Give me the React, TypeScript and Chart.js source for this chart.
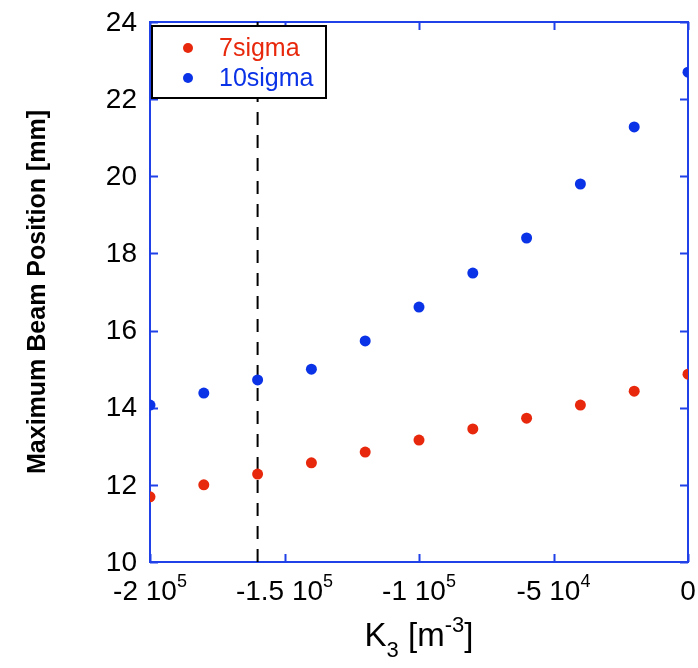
import React, { useEffect, useRef } from 'react';
import { Chart, registerables } from 'chart.js';

Chart.register(...registerables);

const k3Values = [-200000, -180000, -160000, -140000, -120000, -100000, -80000, -60000, -40000, -20000, 0];
const sigma7 = [11.69, 12.0, 12.28, 12.57, 12.85, 13.16, 13.45, 13.73, 14.07, 14.43, 14.87];
const sigma10 = [14.07, 14.38, 14.72, 15.0, 15.73, 16.61, 17.49, 18.4, 19.8, 21.28, 22.7];
const xTickValues = [-200000, -150000, -100000, -50000, 0];
const xTickMantissa = ['-2', '-1.5', '-1', '-5', '0'];
const xTickExponent = ['5', '5', '5', '4', ''];
const yTickValues = [10, 12, 14, 16, 18, 20, 22, 24];
const markerK3 = -160000;
const markerRange = [10, 24];
const seriesNames = ['7sigma', '10sigma'];

const RED = '#e8280c';
const BLUE = '#0a32e6';
const AXIS = '#2040e8';
const FONT = '"Liberation Sans", Arial, sans-serif';

const decorPlugin = {
  id: 'decor',
  beforeDatasetsDraw(chart: any) {
    const { ctx, chartArea: a, scales } = chart;
    const xs = scales.x;
    const ys = scales.y;
    ctx.save();
    ctx.strokeStyle = AXIS;
    ctx.lineWidth = 2;
    ctx.strokeRect(a.left, a.top, a.right - a.left, a.bottom - a.top);
    const tl = 8;
    ctx.beginPath();
    xTickValues.forEach((v) => {
      const px = Math.round(xs.getPixelForValue(v)) + 0.5;
      ctx.moveTo(px, a.bottom);
      ctx.lineTo(px, a.bottom - tl);
      ctx.moveTo(px, a.top);
      ctx.lineTo(px, a.top + tl);
    });
    yTickValues.forEach((v) => {
      const py = Math.round(ys.getPixelForValue(v)) + 0.5;
      ctx.moveTo(a.left, py);
      ctx.lineTo(a.left + tl, py);
      ctx.moveTo(a.right, py);
      ctx.lineTo(a.right - tl, py);
    });
    ctx.stroke();
    ctx.restore();
  },
  afterDatasetsDraw(chart: any) {
    const { ctx, chartArea: a, scales } = chart;
    const xs = scales.x;
    const ys = scales.y;
    ctx.save();
    ctx.fillStyle = '#000';
    ctx.font = `28px ${FONT}`;
    ctx.textAlign = 'right';
    ctx.textBaseline = 'middle';
    yTickValues.forEach((v) => {
      ctx.fillText(String(v), a.left - 13, ys.getPixelForValue(v) + 1);
    });
    ctx.textBaseline = 'alphabetic';
    ctx.textAlign = 'left';
    xTickValues.forEach((v, i) => {
      const main = xTickExponent[i] ? `${xTickMantissa[i]} 10` : xTickMantissa[i];
      ctx.font = `28px ${FONT}`;
      const w1 = ctx.measureText(main).width;
      ctx.font = `18px ${FONT}`;
      const w2 = xTickExponent[i] ? ctx.measureText(xTickExponent[i]).width : 0;
      const x0 = xs.getPixelForValue(v) - (w1 + w2) / 2;
      ctx.font = `28px ${FONT}`;
      ctx.fillText(main, x0, a.bottom + 38);
      if (xTickExponent[i]) {
        ctx.font = `18px ${FONT}`;
        ctx.fillText(xTickExponent[i], x0 + w1, a.bottom + 25);
      }
    });
    const parts = [
      { t: 'K', size: 33, dy: 0 },
      { t: '3', size: 22, dy: 11 },
      { t: ' [m', size: 33, dy: 0 },
      { t: '-3', size: 22, dy: -14 },
      { t: ']', size: 33, dy: 0 },
    ];
    let total = 0;
    parts.forEach((p) => {
      ctx.font = `${p.size}px ${FONT}`;
      total += ctx.measureText(p.t).width;
    });
    let cx = (a.left + a.right) / 2 - total / 2;
    const base = a.bottom + 84;
    parts.forEach((p) => {
      ctx.font = `${p.size}px ${FONT}`;
      ctx.fillText(p.t, cx, base + p.dy);
      cx += ctx.measureText(p.t).width;
    });
    ctx.save();
    ctx.translate(38, (a.top + a.bottom) / 2);
    ctx.rotate(-Math.PI / 2);
    ctx.font = `bold 25px ${FONT}`;
    ctx.textAlign = 'center';
    ctx.textBaseline = 'middle';
    ctx.fillText('Maximum Beam Position [mm]', 0, 0);
    ctx.restore();
    const lx = a.left + 2;
    const ly = a.top + 4;
    const lw = 174;
    const lh = 72;
    ctx.fillStyle = '#fff';
    ctx.fillRect(lx, ly, lw, lh);
    ctx.strokeStyle = '#000';
    ctx.lineWidth = 2;
    ctx.strokeRect(lx, ly, lw, lh);
    const colors = [RED, BLUE];
    ctx.font = `25px ${FONT}`;
    ctx.textAlign = 'left';
    ctx.textBaseline = 'middle';
    seriesNames.forEach((name, i) => {
      const yy = ly + 22 + i * 30;
      ctx.fillStyle = colors[i];
      ctx.beginPath();
      ctx.arc(lx + 36, yy, 5, 0, Math.PI * 2);
      ctx.fill();
      ctx.fillText(name, lx + 67, yy + 1);
    });
    ctx.restore();
  },
};

export default function App() {
  const ref = useRef<HTMLCanvasElement>(null);
  useEffect(() => {
    if (!ref.current) return;
    const chart = new Chart(ref.current, {
      type: 'scatter',
      data: {
        datasets: [
          {
            label: seriesNames[0],
            data: k3Values.map((x, i) => ({ x, y: sigma7[i] })),
            backgroundColor: RED,
            borderColor: RED,
            pointRadius: 5.5,
            pointBorderWidth: 0,
          },
          {
            label: seriesNames[1],
            data: k3Values.map((x, i) => ({ x, y: sigma10[i] })),
            backgroundColor: BLUE,
            borderColor: BLUE,
            pointRadius: 5.5,
            pointBorderWidth: 0,
          },
          {
            type: 'line',
            label: 'marker',
            data: markerRange.map((y) => ({ x: markerK3, y })),
            borderColor: '#000',
            borderWidth: 2,
            borderDash: [13, 10],
            pointRadius: 0,
            showLine: true,
            fill: false,
          } as any,
        ],
      },
      options: {
        responsive: false,
        animation: false,
        devicePixelRatio: 1,
        layout: { padding: { left: 150, right: 10, top: 22, bottom: 106 } },
        plugins: { legend: { display: false }, tooltip: { enabled: false } },
        scales: {
          x: {
            type: 'linear',
            min: -200000,
            max: 0,
            ticks: { display: false },
            grid: { display: false, drawTicks: false },
            border: { display: false },
            afterFit: (s: any) => { s.height = 0; },
          },
          y: {
            type: 'linear',
            min: 10,
            max: 24,
            ticks: { display: false },
            grid: { display: false, drawTicks: false },
            border: { display: false },
            afterFit: (s: any) => { s.width = 0; },
          },
        },
      },
      plugins: [decorPlugin],
    });
    return () => chart.destroy();
  }, []);
  return (
    <div style={{ position: 'absolute', left: 0, top: 0, width: 698, height: 668, background: '#fff' }}>
      <canvas ref={ref} width={698} height={668} />
    </div>
  );
}
